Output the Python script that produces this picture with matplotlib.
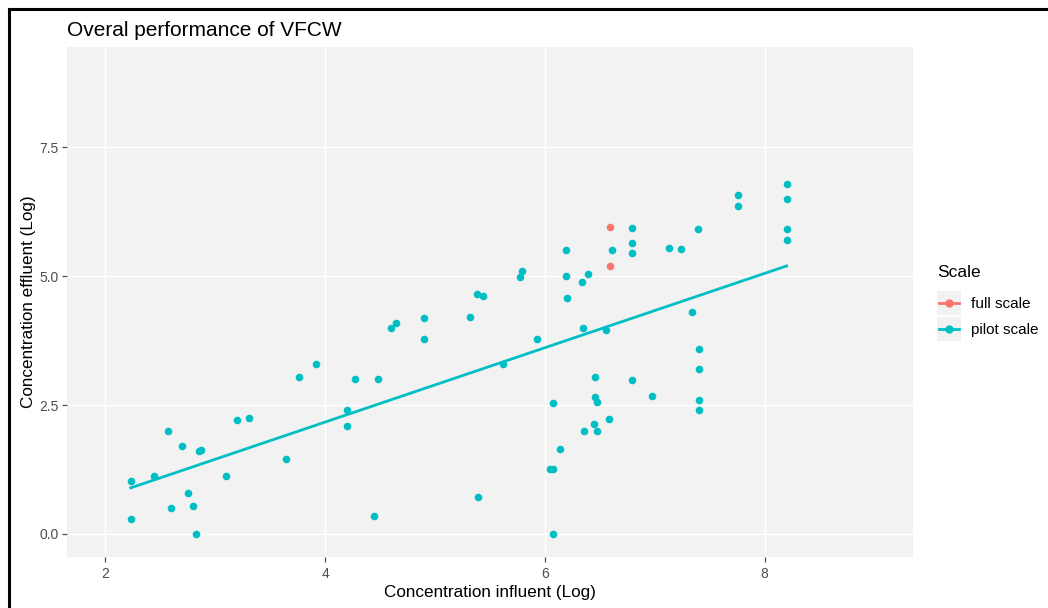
import numpy as np
import matplotlib
matplotlib.use("Agg")
import matplotlib.pyplot as plt
from matplotlib.lines import Line2D
from matplotlib.patches import Rectangle
from matplotlib.legend_handler import HandlerBase

plt.rcParams['font.family'] = ['Liberation Sans', 'DejaVu Sans']

# pilot scale measurements (log influent, log effluent)
pilot_x = [2.23, 2.23, 2.44, 2.57, 2.70, 2.60, 2.75, 2.80, 2.82, 2.855, 2.87,
           3.10, 3.20, 3.31, 3.64, 3.76, 3.92, 4.20, 4.20, 4.27, 4.485, 4.44,
           4.60, 4.645, 4.90, 4.90, 5.315, 5.38, 5.44, 5.39, 5.62, 5.77, 5.79,
           5.93, 6.07, 6.14, 6.045, 6.075, 6.07, 6.20, 6.19, 6.19, 6.34, 6.39,
           6.35, 6.56, 6.61, 6.79, 6.79, 6.79, 7.13, 7.24, 7.39, 7.34, 7.40,
           7.40, 6.46, 6.46, 6.47, 6.58, 6.45, 6.47, 6.355, 6.79, 6.975, 7.40,
           7.40, 8.20, 8.20, 8.20, 8.20, 7.76, 7.76]
pilot_y = [1.02, 0.29, 1.13, 2.00, 1.70, 0.50, 0.79, 0.54, 0.00, 1.61, 1.63,
           1.13, 2.20, 2.25, 1.46, 3.05, 3.30, 2.41, 2.09, 3.00, 3.00, 0.34,
           4.00, 4.09, 4.18, 3.78, 4.21, 4.66, 4.62, 0.72, 3.30, 4.98, 5.10,
           3.78, 2.53, 1.64, 1.25, 1.25, 0.00, 4.57, 5.50, 5.00, 4.89, 5.04,
           4.00, 3.96, 5.50, 5.94, 5.64, 5.46, 5.55, 5.53, 5.91, 4.30, 3.59,
           3.19, 3.05, 2.66, 2.55, 2.23, 2.14, 2.00, 2.00, 2.98, 2.68, 2.59,
           2.41, 6.80, 6.50, 5.91, 5.70, 6.57, 6.37]

# full scale measurements
full_x = [6.59, 6.59]
full_y = [5.96, 5.19]

scale_names = ['full scale', 'pilot scale']
scale_colors = ['#F8766D', '#00BFC4']
panel_bg = '#F2F2F2'


class KeyHandler(HandlerBase):
    # grey key square with a short line and a dot, ggplot style
    def create_artists(self, legend, orig_handle, xdescent, ydescent,
                       width, height, fontsize, trans):
        c = orig_handle.get_color()
        x0, y0 = -xdescent, -ydescent
        bg = Rectangle((x0, y0), width, height, facecolor=panel_bg,
                       edgecolor='none', transform=trans)
        ln = Line2D([x0 + width * 0.08, x0 + width * 0.92], [y0 + height / 2] * 2,
                    color=c, linewidth=2, transform=trans)
        pt = Line2D([x0 + width / 2], [y0 + height / 2], marker='o',
                    markersize=5, color=c, linestyle='none', transform=trans)
        return [bg, ln, pt]


fig = plt.figure(figsize=(10.48, 6.08), dpi=100)
ax = fig.add_axes([0.0639, 0.0839, 0.8073, 0.8388])

ax.set_facecolor(panel_bg)
for s in ax.spines.values():
    s.set_visible(False)
ax.grid(True, color='white', linewidth=1.0)
ax.set_axisbelow(True)

ax.scatter(full_x, full_y, s=30, color=scale_colors[0], zorder=3, linewidths=0)
ax.scatter(pilot_x, pilot_y, s=30, color=scale_colors[1], zorder=3, linewidths=0)

# linear fit for the pilot scale group
px = np.array(pilot_x)
py = np.array(pilot_y)
slope, intercept = np.polyfit(px, py, 1)
xs = np.sort(px)
ax.plot(xs, slope * xs + intercept, color=scale_colors[1], linewidth=2, zorder=2)

ax.set_xlim(2 - 0.35, 9 + 0.35)
ax.set_ylim(0 - 0.45, 9 + 0.45)
ax.set_xticks([2, 4, 6, 8])
ax.set_yticks([0, 2.5, 5, 7.5])
ax.set_yticklabels(['0.0', '2.5', '5.0', '7.5'])
ax.tick_params(colors='#4D4D4D', labelsize=10, length=3.5, width=0.9)
ax.tick_params(axis='y', pad=2.5)

ax.set_xlabel('Concentration influent (Log)', fontsize=12.3, labelpad=3)
ax.set_ylabel('Concentration effluent (Log)', fontsize=12.3, labelpad=2)
ax.set_title('Overal performance of VFCW', loc='left', fontsize=15, pad=8)

# legend: title as its own text, keys below it
fig.text(937 / 1048, 1 - 272 / 608, 'Scale', fontsize=12.5, va='center', ha='left')
handles = [Line2D([0], [0], color=c) for c in scale_colors]
fig.legend(handles, scale_names, loc='upper left',
           bbox_to_anchor=(937 / 1048, 1 - 291 / 608), frameon=False, fontsize=11,
           handlelength=1.57, handleheight=2.04, handletextpad=0.65,
           labelspacing=0.13, borderpad=0, borderaxespad=0,
           handler_map={Line2D: KeyHandler()})

# frame lines on the top and left edges
fig.add_artist(Line2D([0.0086, 1.0], [0.985, 0.985], color='black', linewidth=2.2,
                      transform=fig.transFigure))
fig.add_artist(Line2D([0.0086, 0.0086], [0.0, 0.985], color='black', linewidth=2.2,
                      transform=fig.transFigure))

fig.savefig('out.png', dpi=100)
